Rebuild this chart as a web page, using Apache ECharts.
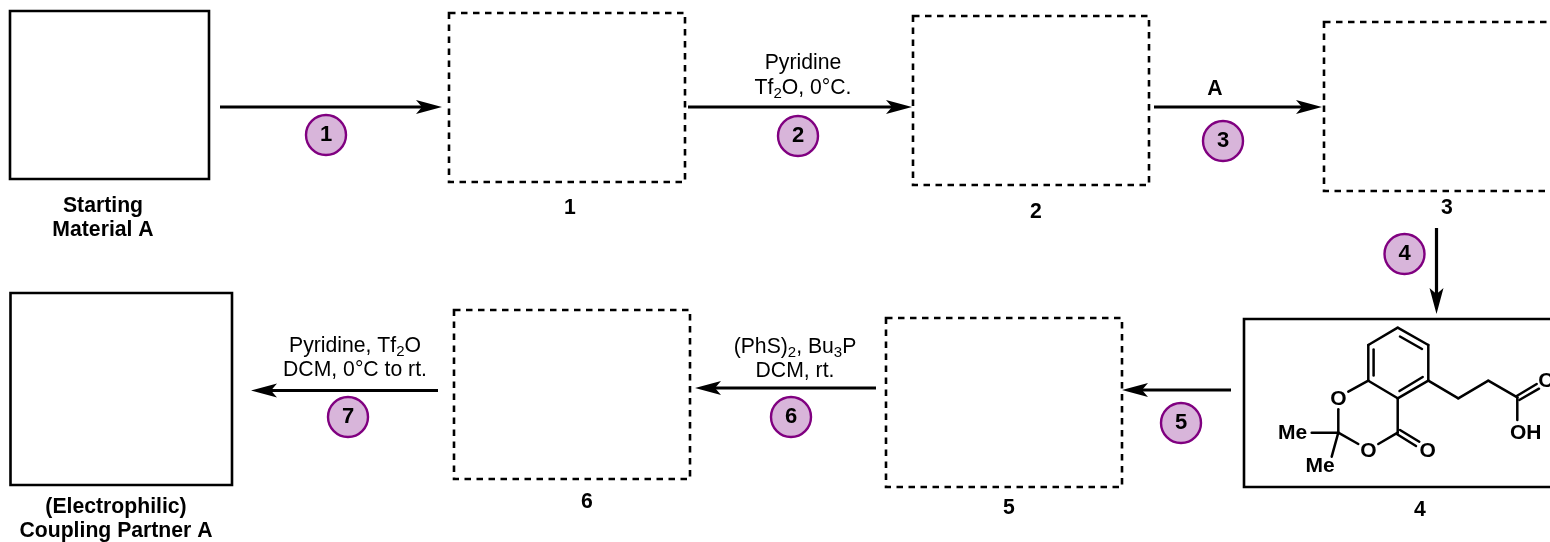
<!DOCTYPE html>
<html>
<head>
<meta charset="utf-8">
<style>html,body{margin:0;padding:0;background:#fff}#c{width:1550px;height:542px}</style>
<script src="https://cdn.jsdelivr.net/npm/echarts@6/dist/echarts.min.js"></script>
</head>
<body>
<div id="c"></div>
<script>
// Scheme, in picture units on two hidden axes: [x1, y1, x2, y2]
var solidBoxes = [[10,11,209,179],[10.5,293,232,485],[1244,319,1565,487]];
var dashedBoxes = [[449,13,685,182],[913,16,1149,185],[1324,22,1560,191],[886,318,1122,487],[454,310,690,479]];
var arrows = [[220,107,442,107],[688,107,912,107],[1154,107,1322,107],[1436.5,228,1436.5,314],[1231,390,1122,390],[876,388,695,388],[438,390.5,251,390.5]];
var bonds = [
  [1397.7,327.7,1428.3,345],[1428.3,345,1428.3,380.7],[1428.3,380.7,1397.7,398.3],
  [1397.7,398.3,1368.3,380.7],[1368.3,380.7,1368.3,345],[1368.3,345,1397.7,327.7],
  [1373.6,349.5,1373.6,375.5],[1400,336.5,1422,349],[1399.5,391,1422.7,377],
  [1428.3,380.7,1458.3,398.3],[1458.3,398.3,1488.3,380.7],[1488.3,380.7,1517.3,397.3],
  [1516.7,396,1536.7,384],[1519.3,400,1539,388.7],[1517.3,397.3,1517.3,420],
  [1368.3,380.7,1348.3,391.7],[1338.3,409.3,1338.3,432.7],[1311.7,432.7,1338.3,432.7],
  [1338.3,432.7,1331.7,456.7],[1338.3,432.7,1358.3,444],[1378.3,444,1397.7,432.7],
  [1397.7,432.7,1397.7,398.3],[1400,430,1419.3,441.7],[1396.7,434,1416,446]
];
var stepCircles = [[326,135,'1'],[798,136,'2'],[1223,141,'3'],[1404.5,254,'4'],[1181,423,'5'],[791,417,'6'],[348,417,'7']];
var plainLabels = [
  [803,62,'Pyridine'],[803,87,'Tf{s|2}O, 0°C.'],
  [355,345,'Pyridine, Tf{s|2}O'],[355,369,'DCM, 0°C to rt.'],
  [795,346,'(PhS){s|2}, Bu{s|3}P'],[795,370,'DCM, rt.']
];
var boldLabels = [
  [1215,88,'A'],[103,205,'Starting'],[103,229,'Material A'],
  [570,207,'1'],[1036,211,'2'],[1447,207,'3'],[1420,509,'4'],[1009,507,'5'],[587,501,'6'],
  [116,506,'(Electrophilic)'],[116,530,'Coupling Partner A']
];
var atomLabels = [
  [1338.3,398.5,'O'],[1368.3,450,'O'],[1427.7,450,'O'],[1546.5,380.7,'O'],
  [1525.7,432.7,'OH'],[1292.7,432.7,'Me'],[1320,465,'Me']
];

var FONT = '"Liberation Sans", Arial, sans-serif';
var chart = echarts.init(document.getElementById('c'), null, {renderer:'canvas'});

function boxSeries(data, dash, width){
  return {
    type:'custom', coordinateSystem:'cartesian2d', clip:false, silent:true, data:data,
    encode:{x:[0,2], y:[1,3]},
    renderItem:function(p, api){
      var a = api.coord([api.value(0), api.value(1)]);
      var b = api.coord([api.value(2), api.value(3)]);
      return {type:'rect', shape:{x:a[0], y:a[1], width:b[0]-a[0], height:b[1]-a[1]},
        style:{fill:'none', stroke:'#000', lineWidth:width, lineDash:dash||null}};
    }
  };
}
function segmentSeries(data){
  return {
    type:'custom', coordinateSystem:'cartesian2d', clip:false, silent:true, data:data,
    encode:{x:[0,2], y:[1,3]},
    renderItem:function(p, api){
      var a = api.coord([api.value(0), api.value(1)]);
      var b = api.coord([api.value(2), api.value(3)]);
      return {type:'line', shape:{x1:a[0], y1:a[1], x2:b[0], y2:b[1]},
        style:{stroke:'#000', lineWidth:2.5, lineCap:'round'}};
    }
  };
}
function arrowSeries(data){
  return {
    type:'custom', coordinateSystem:'cartesian2d', clip:false, silent:true, data:data,
    encode:{x:[0,2], y:[1,3]},
    renderItem:function(p, api){
      var a = api.coord([api.value(0), api.value(1)]);
      var b = api.coord([api.value(2), api.value(3)]);
      var dx = b[0]-a[0], dy = b[1]-a[1], n = Math.sqrt(dx*dx+dy*dy);
      var ux = dx/n, uy = dy/n, L = 26, N = 20, W = 7;
      return {type:'group', children:[
        {type:'line', shape:{x1:a[0], y1:a[1], x2:b[0]-ux*N, y2:b[1]-uy*N}, style:{stroke:'#000', lineWidth:3.2}},
        {type:'polygon', shape:{points:[
          [b[0],b[1]],
          [b[0]-ux*L-uy*W, b[1]-uy*L+ux*W],
          [b[0]-ux*N, b[1]-uy*N],
          [b[0]-ux*L+uy*W, b[1]-uy*L-ux*W]
        ]}, style:{fill:'#000'}}
      ]};
    }
  };
}
function textSeries(data, weight, size){
  return {
    type:'custom', coordinateSystem:'cartesian2d', clip:false, silent:true, data:data,
    encode:{x:0, y:1},
    renderItem:function(p, api){
      var c = api.coord([api.value(0), api.value(1)]);
      return {type:'text', x:c[0], y:c[1]+1, style:{
        text:String(data[p.dataIndex][2]), fill:'#000', align:'center', verticalAlign:'middle',
        font:weight+' '+size+'px '+FONT,
        rich:{s:{fontFamily:FONT, fontSize:15, lineHeight:24, padding:[11,0,0,0], fill:'#000'}}
      }};
    }
  };
}

chart.setOption({
  animation:false,
  backgroundColor:'#fff',
  grid:{left:0, right:0, top:0, bottom:0},
  xAxis:{type:'value', min:0, max:1550, show:false},
  yAxis:{type:'value', min:0, max:542, inverse:true, show:false},
  series:[
    boxSeries(solidBoxes, null, 2.6),
    boxSeries(dashedBoxes, [6.5,5.5], 2.6),
    segmentSeries(bonds),
    arrowSeries(arrows),
    {
      type:'scatter', symbol:'circle', symbolSize:40, silent:true, clip:false, data:stepCircles,
      encode:{x:0, y:1},
      itemStyle:{color:'#D8B5DA', borderColor:'#800080', borderWidth:2.4, opacity:1},
      label:{show:true, position:'inside', color:'#000', textBorderWidth:0, fontFamily:FONT, fontWeight:'bold', fontSize:22,
        formatter:function(p){ return p.value[2]; }}
    },
    textSeries(plainLabels, 'normal', 21.2),
    textSeries(boldLabels, 'bold', 21.2),
    textSeries(atomLabels, 'bold', 21)
  ]
});
</script>
</body>
</html>
